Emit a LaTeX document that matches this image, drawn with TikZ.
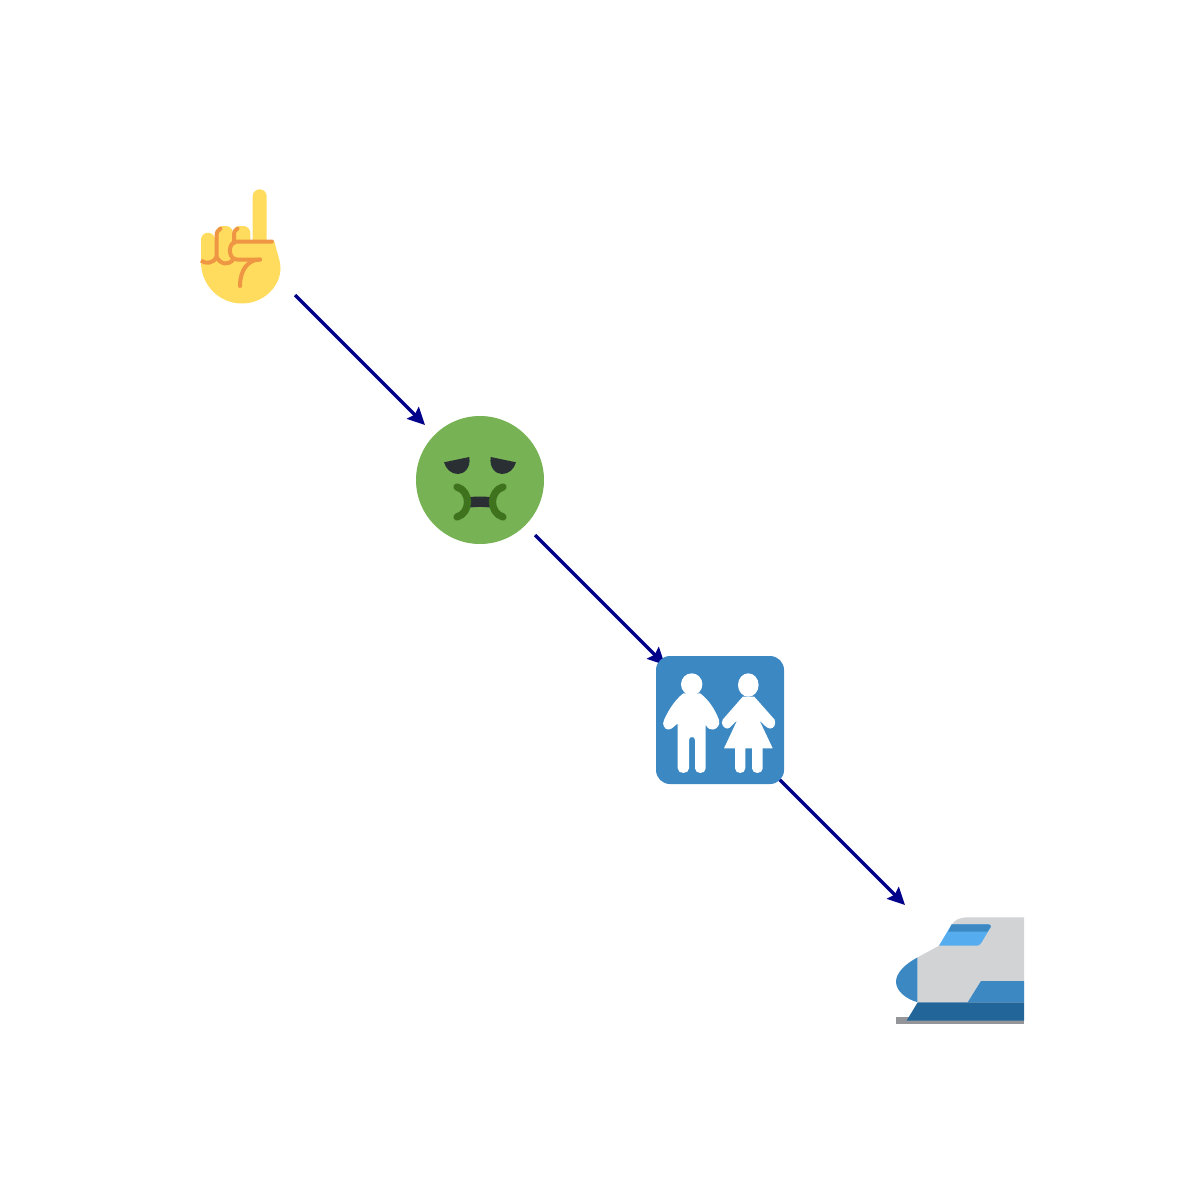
\documentclass[tikz,border=0pt]{standalone}
\usetikzlibrary{arrows.meta}

\definecolor{handYellow}{HTML}{FFDC5D}
\definecolor{handLine}{HTML}{EF9645}
\definecolor{faceGreen}{HTML}{77B255}
\definecolor{faceDark}{HTML}{292F33}
\definecolor{faceLine}{HTML}{3E721D}
\definecolor{signBlue}{HTML}{3B88C3}
\definecolor{trainGray}{HTML}{D1D3D4}
\definecolor{trainSky}{HTML}{55ACEE}
\definecolor{trainBase}{HTML}{226699}
\definecolor{trainTrack}{HTML}{939598}
\definecolor{flowBlue}{HTML}{00008B}

\tikzset{
  iconSpot/.style = {circle, minimum size = 1.556cm, inner sep = 0pt, outer sep = 0pt},
  flowLine/.style = {color = flowBlue, line width = 0.035cm, >={Stealth[length = 0.17cm, width = 0.165cm, inset = 0.025cm]}},
  handCrease/.style = {draw = handLine, line width = 0.04cm, line cap = round, line join = round},
  faceCrease/.style = {draw = faceLine, line width = 0.072cm, line cap = round}
}

\begin{document}
\begin{tikzpicture}[x = 0.01cm, y = -0.01cm]
        \useasboundingbox (0, 0) rectangle (1200, 1200);

        \node[iconSpot] (handNode) at (240, 240) {};
        \node[iconSpot] (faceNode) at (480, 480) {};
        \node[iconSpot] (signNode) at (720, 720) {};
        \node[iconSpot] (trainNode) at (960, 960) {};

        \draw[flowLine] (handNode) edge[->] (faceNode);
        \draw[flowLine] (faceNode) edge[->] (signNode);
        \draw[flowLine] (signNode) edge[->] (trainNode);

        % hand
        \fill[handYellow, rounded corners = 0.07cm] (252.7, 250) -- (252.7, 189.3) -- (266.7, 189.3) -- (266.7, 250) -- cycle;
        \fill[handYellow, rounded corners = 0.07cm] (233, 250) -- (233, 226) -- (250.3, 226) -- (250.3, 250) -- cycle;
        \fill[handYellow, rounded corners = 0.07cm] (216, 250) -- (216, 226) -- (233, 226) -- (233, 250) -- cycle;
        \fill[handYellow, rounded corners = 0.07cm] (201, 265) -- (201, 232.7) -- (215, 232.7) -- (215, 265) -- cycle;
        \fill[handYellow] (201, 250) -- (201, 262) .. controls (201, 285) and (219, 303.5) .. (242, 303.5)
          .. controls (263, 303.5) and (280.5, 287) .. (280.5, 268) .. controls (280.5, 262) and (278, 256) .. (274.5, 242)
          -- (215, 242) -- cycle;
        \draw[handCrease, line cap = butt] (201, 260.5) .. controls (205, 264) and (213, 264) .. (216.5, 257);
        \draw[handCrease] (216.5, 257) -- (216.5, 236) .. controls (216.5, 232) and (218, 230) .. (220.5, 228.5);
        \draw[handCrease] (216.5, 257) .. controls (221, 265) and (229, 265.5) .. (233.5, 259);
        \draw[handCrease] (234, 243) -- (234, 234) .. controls (234, 232) and (235, 230) .. (237.5, 228.5);
        \draw[handCrease] (272, 241.5) -- (237, 241.5) .. controls (227.5, 241.5) and (227.5, 259.5) .. (237, 259.5) -- (260, 259.5);
        \draw[handCrease] (260, 259.5) .. controls (248, 259.5) and (240, 270) .. (240, 286);

        % face
        \fill[faceGreen] (480, 480) circle (64);
        \fill[faceDark] (444, 462.3) -- (469.3, 457) .. controls (471, 468) and (464, 474) .. (458, 474) .. controls (451, 474) and (446, 469) .. cycle;
        \fill[faceDark] (516, 462.3) -- (490.7, 457) .. controls (489, 468) and (496, 474) .. (502, 474) .. controls (509, 474) and (514, 469) .. cycle;
        \fill[faceDark] (468, 497.3) .. controls (476, 496.3) and (484, 496.3) .. (492, 497.3) -- (492, 507.7) .. controls (484, 506.7) and (476, 506.7) .. (468, 507.7) -- cycle;
        \draw[faceCrease] (457, 487) .. controls (471, 491) and (471, 513) .. (457, 517);
        \draw[faceCrease] (503, 487) .. controls (489, 491) and (489, 513) .. (503, 517);

        % restroom sign
        \fill[signBlue, rounded corners = 0.14cm] (656, 656) rectangle (784, 784);
        \fill[white] (691.7, 684.3) ellipse (10.7 and 11);
        \fill[white] (683.3, 693.3) .. controls (675, 700) and (669, 709) .. (664, 720)
          .. controls (661.5, 725) and (665, 729.5) .. (668.3, 729.5) .. controls (672, 729.5) and (674, 726) .. (677.7, 723.5)
          -- (677.7, 768.3) .. controls (677.7, 774.5) and (689, 774.5) .. (689, 768.3)
          -- (689, 740) .. controls (689, 736) and (695, 736) .. (695, 740)
          -- (695, 768.3) .. controls (695, 774.5) and (705.7, 774.5) .. (705.7, 768.3)
          -- (705.7, 725) .. controls (708, 729) and (711, 730) .. (713, 729.5)
          .. controls (717, 729) and (720.5, 725) .. (719, 720)
          .. controls (715, 709) and (708, 699) .. (700, 693.3) -- cycle;
        \fill[white] (748.3, 685) ellipse (10.3 and 11.7);
        \fill[white] (742.7, 696.7) -- (722.8, 719.5) .. controls (720, 723.5) and (724, 729) .. (727.5, 728.5)
          .. controls (730, 728.5) and (733, 724) .. (737.3, 720)
          -- (724, 748.3) -- (735, 748.3) -- (735, 768.3) .. controls (735, 774.5) and (745.3, 774.5) .. (745.3, 768.3)
          -- (745.3, 748.3) -- (752, 748.3) -- (752, 768.3) .. controls (752, 774.5) and (762.7, 774.5) .. (762.7, 768.3)
          -- (762.7, 748.3) -- (772.7, 748.3) -- (759.3, 720)
          .. controls (763, 724) and (767, 728.5) .. (770, 728.5) .. controls (774, 729) and (776.5, 723.5) .. (774.5, 719.5)
          -- (754.3, 696.7) -- cycle;

        % train
        \fill[trainTrack] (896, 1016.7) rectangle (1024, 1024);
        \fill[signBlue] (917.7, 957.3) .. controls (905, 964) and (896, 973) .. (896, 981.7) .. controls (896, 991) and (906, 999) .. (917.7, 1002.3) -- cycle;
        \fill[trainGray] (917.7, 957.3) -- (939, 945.7) -- (951.7, 925) .. controls (954, 920) and (960, 917.3) .. (968.3, 917.3)
          -- (1024, 917.3) -- (1024, 1002.3) -- (917.7, 1002.3) -- cycle;
        \fill[trainSky] (939, 945.7) -- (951.7, 924.3) -- (988, 924.3) .. controls (990, 924.3) and (991.5, 925.5) .. (990.7, 927)
          -- (981.5, 942.5) .. controls (980, 945) and (978.5, 945.7) .. (976.7, 945.7) -- cycle;
        \fill[signBlue] (948.3, 931.7) -- (951.7, 924.3) -- (988, 924.3) .. controls (990, 924.3) and (991.5, 925.5) .. (990.7, 927) -- (987.3, 931.7) -- cycle;
        \fill[signBlue] (967.7, 1002.3) -- (981, 981) -- (1024, 981) -- (1024, 1002.3) -- cycle;
        \fill[trainBase] (917.7, 1002.3) -- (1024, 1002.3) -- (1024, 1020.5) -- (906.7, 1020.5) -- cycle;
      \end{tikzpicture}
\end{document}
